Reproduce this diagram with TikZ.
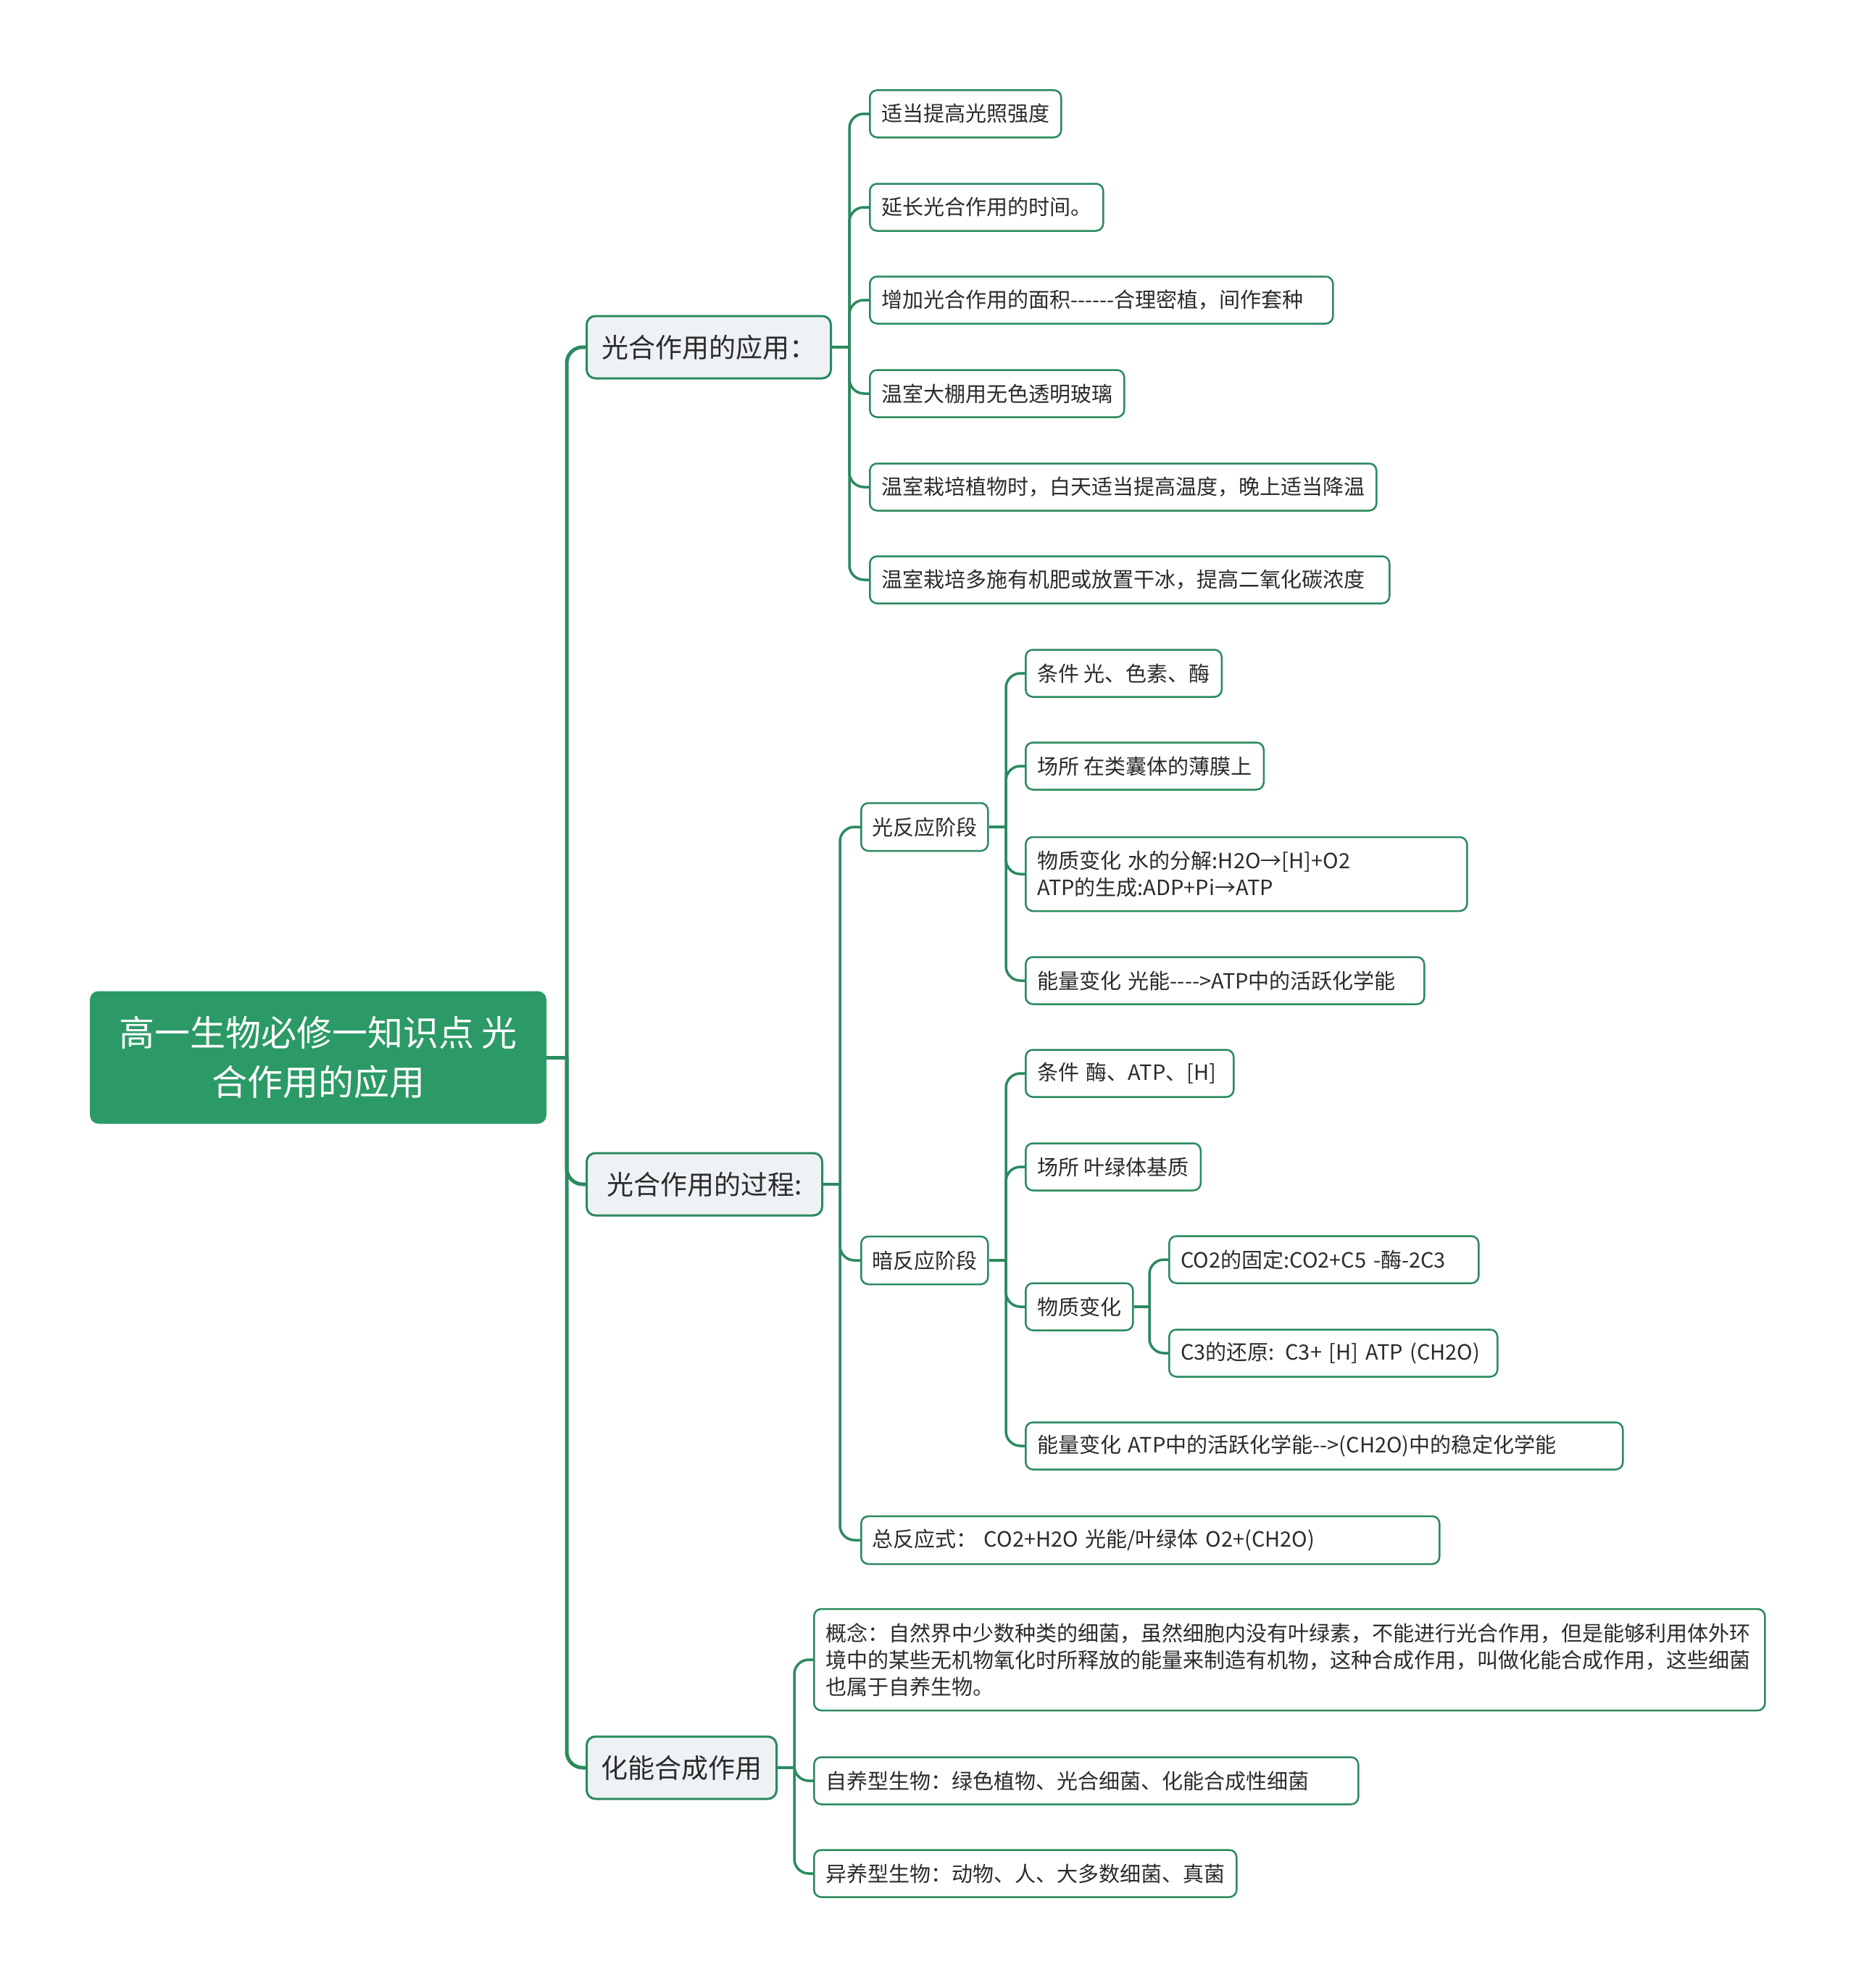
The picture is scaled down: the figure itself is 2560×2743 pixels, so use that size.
\documentclass[tikz,border=0pt]{standalone}
\usepackage{fontspec}
\setmainfont{Noto Sans CJK SC}[Ligatures=TeXOff]
\usetikzlibrary{calc}
\definecolor{lineg}{HTML}{2A8A5E}
\definecolor{rootg}{HTML}{2B9A66}
\definecolor{lonefill}{HTML}{EEF2F5}
\definecolor{txt}{HTML}{2B2B2B}
\begin{document}
\begin{tikzpicture}[x=1pt,y=-1pt,
  conn/.style={draw=lineg,line width=3.5pt,rounded corners=20pt},
  trunk/.style={draw=lineg,line width=5pt,rounded corners=22pt},
  leaf/.style={draw=lineg,line width=2.5pt,fill=white,rounded corners=10pt,anchor=west,
    minimum height=65pt,inner xsep=16pt,inner ysep=4pt,text=txt,
    font=\fontsize{29}{37}\selectfont,align=left},
  lvone/.style={draw=lineg,line width=3pt,fill=lonefill,rounded corners=12pt,anchor=west,
    minimum height=86pt,inner xsep=19pt,text=txt,font=\fontsize{37}{44}\selectfont},
  rootbox/.style={fill=rootg,rounded corners=12pt,minimum width=630pt,minimum height=183pt,
    text=white,font=\fontsize{49}{68}\selectfont,align=center}]
\useasboundingbox (0,0) rectangle (2560,2743);
\fill[white] (0,0) rectangle (2560,2743);

% bus x positions
\coordinate (x0) at (782,0);
\coordinate (xA) at (1172,0);
\coordinate (xP) at (1159,0);
\coordinate (xL) at (1388,0);
\coordinate (xD) at (1388,0);
\coordinate (xS) at (1586,0);
\coordinate (xC) at (1096,0);

% root
\node[rootbox] (r) at (439,1459) {高一生物必修一知识点 光\\合作用的应用};

% level one
\node[lvone,minimum width=337pt] (app) at (808,479) {光合作用的应用：};
\node[lvone,minimum width=325pt] (proc) at (808,1634) {光合作用的过程:};
\node[lvone,minimum width=262pt] (chem) at (808,2439) {化能合成作用};

% application leaves
\node[leaf] (a1) at (1199,157) {适当提高光照强度};
\node[leaf] (a2) at (1199,286) {延长光合作用的时间。};
\node[leaf,text width=607pt] (a3) at (1199,414) {增加光合作用的面积------合理密植，间作套种};
\node[leaf] (a4) at (1199,543) {温室大棚用无色透明玻璃};
\node[leaf] (a5) at (1199,672) {温室栽培植物时，白天适当提高温度，晚上适当降温};
\node[leaf,text width=685pt] (a6) at (1199,800) {温室栽培多施有机肥或放置干冰，提高二氧化碳浓度};

% process
\node[leaf,minimum height=66pt,inner xsep=15pt] (lr) at (1187,1141) {光反应阶段};
\node[leaf,minimum height=66pt,inner xsep=15pt] (dr) at (1187,1739) {暗反应阶段};
\node[leaf,minimum height=66pt,inner xsep=15pt,text width=768pt] (tot) at (1187,2125) {总反应式： CO2+H2O 光能/叶绿体 O2+(CH2O)};

\node[leaf] (l1) at (1414,929) {条件 光、色素、酶};
\node[leaf] (l2) at (1414,1057) {场所 在类囊体的薄膜上};
\node[leaf,minimum height=102pt,text width=577pt] (l3) at (1414,1206) {物质变化 水的分解:H2O→[H]+O2\\ATP的生成:ADP+Pi→ATP};
\node[leaf,text width=518pt] (l4) at (1414,1353) {能量变化 光能---->ATP中的活跃化学能};

\node[leaf,text width=255pt] (d1) at (1414,1481) {条件 酶、ATP、[H]};
\node[leaf] (d2) at (1414,1610) {场所 叶绿体基质};
\node[leaf] (d3) at (1414,1803) {物质变化};
\node[leaf,text width=792pt] (d4) at (1414,1995) {能量变化 ATP中的活跃化学能-->(CH2O)中的稳定化学能};

\node[leaf,text width=395pt] (s1) at (1612,1738) {CO2的固定:CO2+C5 -酶-2C3};
\node[leaf,text width=421pt] (s2) at (1612,1867) {C3的还原: C3+ [H] ATP (CH2O)};

% chemosynthesis
\node[leaf,minimum height=140pt,text width=1280pt] (c1) at (1122,2290) {概念：自然界中少数种类的细菌，虽然细胞内没有叶绿素，不能进行光合作用，但是能够利用体外环\\境中的某些无机物氧化时所释放的能量来制造有机物，这种合成作用，叫做化能合成作用，这些细菌\\也属于自养生物。};
\node[leaf,text width=719pt] (c2) at (1122,2457) {自养型生物：绿色植物、光合细菌、化能合成性细菌};
\node[leaf] (c3) at (1122,2585) {异养型生物：动物、人、大多数细菌、真菌};

% connectors
\draw[trunk] (r.east) -- (r.east -| x0) coordinate (b0);
\foreach \c in {app,proc,chem} \draw[trunk] (b0) |- (\c.west);

\draw[conn] (app.east) -- (app.east -| xA) coordinate (bA);
\foreach \c in {a1,a2,a3,a4,a5,a6} \draw[conn] (bA) |- (\c.west);

\draw[conn] (proc.east) -- (proc.east -| xP) coordinate (bP);
\foreach \c in {lr,dr,tot} \draw[conn] (bP) |- (\c.west);

\draw[conn] (lr.east) -- (lr.east -| xL) coordinate (bL);
\foreach \c in {l1,l2,l3,l4} \draw[conn] (bL) |- (\c.west);

\draw[conn] (dr.east) -- (dr.east -| xD) coordinate (bD);
\foreach \c in {d1,d2,d3,d4} \draw[conn] (bD) |- (\c.west);

\draw[conn] (d3.east) -- (d3.east -| xS) coordinate (bS);
\foreach \c in {s1,s2} \draw[conn] (bS) |- (\c.west);

\draw[conn] (chem.east) -- (chem.east -| xC) coordinate (bC);
\foreach \c in {c1,c2,c3} \draw[conn] (bC) |- (\c.west);
\end{tikzpicture}
\end{document}
